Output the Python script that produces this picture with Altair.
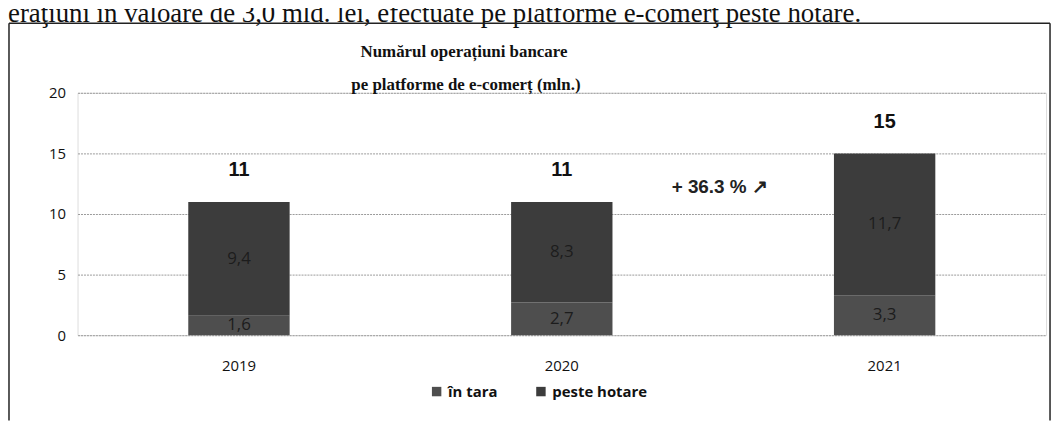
import altair as alt
import pandas as pd

years = ["2019", "2020", "2021"]
series = ["în tara", "peste hotare"]
in_tara = [1.6, 2.7, 3.3]
peste_hotare = [9.4, 8.3, 11.7]
totals = [11, 11, 15]
y_ticks = [0, 5, 10, 15, 20]
growth_label = ["+ 36.3 %  ↗"]
growth_year = ["2021"]
growth_y = [12.2]
title_lines = ["Numărul operațiuni bancare", "pe platforme de e-comerț (mln.)"]
header = ["eraţiuni  în valoare de 3,0 mld. lei, efectuate  pe platforme e-comerţ peste hotare."]

rows = []
for i, yr in enumerate(years):
    rows.append({"an": yr, "serie": series[0], "v": in_tara[i], "ord": 0})
    rows.append({"an": yr, "serie": series[1], "v": peste_hotare[i], "ord": 1})
df = pd.DataFrame(rows)
df["lbl"] = df["v"].map(lambda v: f"{v:.1f}".replace(".", ","))
tot = pd.DataFrame({"an": years, "t": totals})
gr = pd.DataFrame({"an": growth_year, "y": growth_y, "t": growth_label})
one = pd.DataFrame({"k": [0]})

xscale = alt.Scale(domain=years, paddingInner=0.686, paddingOuter=0.343)
yscale = alt.Scale(domain=[0, 20])

xenc = alt.X("an:N", scale=xscale, axis=alt.Axis(
    title=None, labelAngle=0, ticks=False, domain=False,
    labelFont="Open Sans", labelFontSize=15, labelColor="#111",
    labelPadding=24))
yaxis = alt.Axis(
    title=None, values=y_ticks, ticks=False, domain=False,
    labelFont="Open Sans", labelFontSize=15, labelColor="#111",
    labelPadding=12, grid=True, gridColor="#9a9a9a", gridDash=[2, 1],
    gridWidth=1)

bars = alt.Chart(df).mark_bar().encode(
    x=xenc,
    y=alt.Y("v:Q", stack="zero", scale=yscale, axis=yaxis),
    color=alt.Color("serie:N", scale=alt.Scale(domain=series, range=["#4e4e4e", "#3c3c3c"]),
                    legend=alt.Legend(title=None, orient="none", legendX=354, legendY=293,
                                      direction="horizontal", symbolType="square",
                                      symbolSize=90, symbolStrokeWidth=0,
                                      labelFont="Open Sans", labelFontSize=15,
                                      labelFontWeight="bold", labelColor="#111",
                                      columnPadding=36, labelOffset=4)),
    order=alt.Order("ord:Q"),
)

inner = alt.Chart(df).transform_stack(
    stack="v", groupby=["an"], sort=[alt.SortField("ord")], as_=["v0", "v1"]
).transform_calculate(mid="(datum.v0 + datum.v1) / 2").mark_text(
    font="Open Sans", fontSize=17, color="#1c1c1c", baseline="middle"
).encode(x=alt.X("an:N", scale=xscale), y=alt.Y("mid:Q", scale=yscale), text="lbl:N")

tot_text = alt.Chart(tot).mark_text(
    font="Liberation Sans", fontSize=20, fontWeight="bold", color="#111",
    baseline="middle", dy=-32
).encode(x=alt.X("an:N", scale=xscale), y=alt.Y("t:Q", scale=yscale), text="t:N")

gr_text = alt.Chart(gr).mark_text(
    font="Liberation Sans", fontSize=19, fontWeight="bold", color="#222",
    baseline="middle", dx=-166
).encode(x=alt.X("an:N", scale=xscale), y=alt.Y("y:Q", scale=yscale), text="t:N")

t1 = alt.Chart(one).mark_text(font="Liberation Serif", fontSize=17, fontWeight="bold",
                              color="#111", baseline="alphabetic").encode(
    x=alt.value(389), y=alt.value(-36), text=alt.value(title_lines[0]))
t2 = alt.Chart(one).mark_text(font="Liberation Serif", fontSize=17, fontWeight="bold",
                              color="#111", baseline="alphabetic").encode(
    x=alt.value(391), y=alt.value(-3), text=alt.value(title_lines[1]))

hdr = alt.Chart(one).mark_text(font="Liberation Serif", fontSize=27, color="#111",
                               align="left", baseline="alphabetic").encode(
    x=alt.value(-70), y=alt.value(-71), text=alt.value(header[0]))

frame_left = alt.Chart(one).mark_rule(color="#222", strokeWidth=1.5).encode(
    x=alt.value(-69), y=alt.value(-70), y2=alt.value(330))
frame_top = alt.Chart(one).mark_rule(color="#222", strokeWidth=1.5).encode(
    x=alt.value(-69), x2=alt.value(979), y=alt.value(-70))
frame_right = alt.Chart(one).mark_rule(color="#222", strokeWidth=1.5).encode(
    x=alt.value(979), y=alt.value(-70), y2=alt.value(330))

chart = alt.layer(bars, inner, tot_text, gr_text, t1, t2, hdr,
                  frame_left, frame_top, frame_right).properties(
    width=975, height=244,
    autosize=alt.AutoSizeParams(type="none"),
    padding={"left": 70, "top": 84, "right": 8, "bottom": 85},
).configure_view(stroke=None).configure(background="white")

chart.save("out.html", embed_options={"renderer": "svg", "actions": False})
